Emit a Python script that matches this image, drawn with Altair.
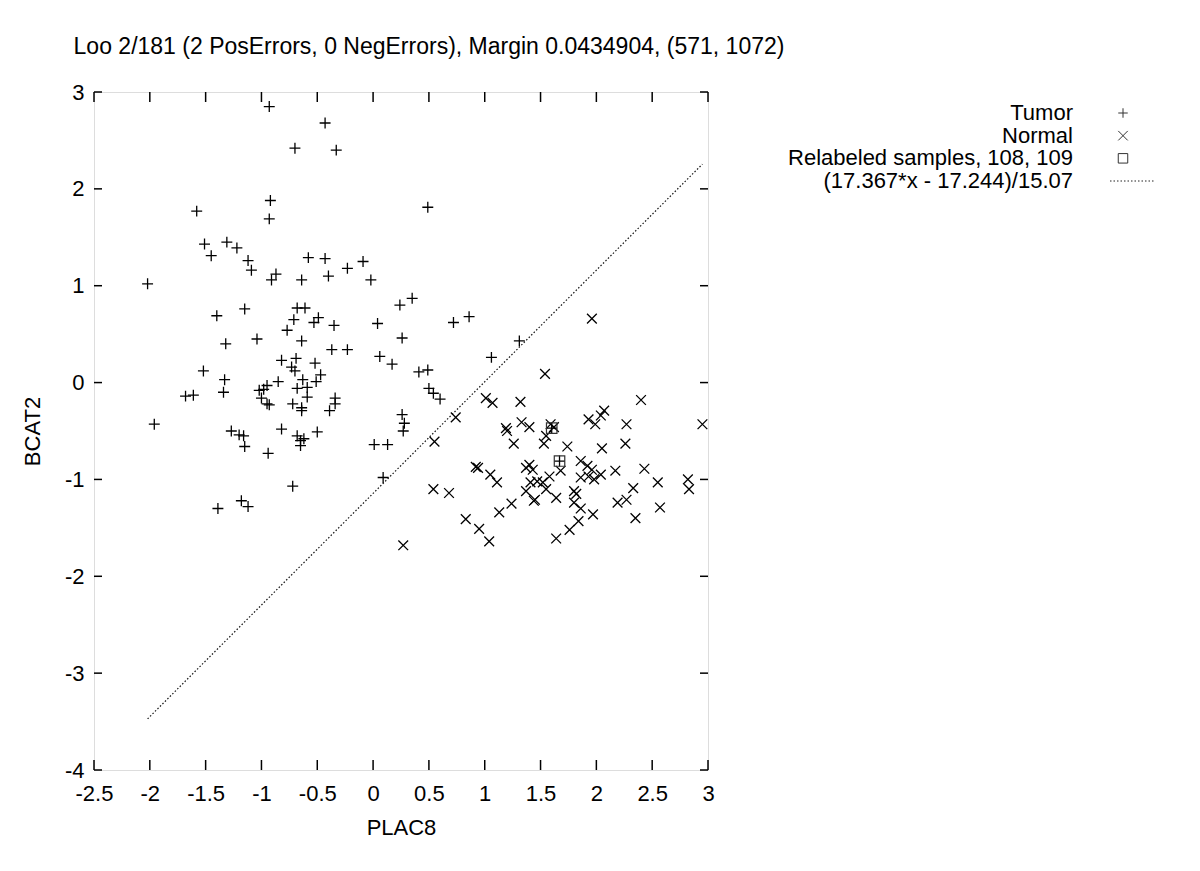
import altair as alt
import pandas as pd

title_text = "Loo 2/181 (2 PosErrors, 0 NegErrors), Margin 0.0434904, (571, 1072)"
x_title = "PLAC8"
y_title = "BCAT2"
x_ticks = [-2.5, -2, -1.5, -1, -0.5, 0, 0.5, 1, 1.5, 2, 2.5, 3]
y_ticks = [-4, -3, -2, -1, 0, 1, 2, 3]

tumor_x = [-0.93, -0.43, -0.70, -0.33, -0.92, -1.58, -0.93, -1.51, -1.31, -1.22, -1.45, -1.12,
           -1.09, -0.87, -0.91, -0.64, -0.58, -0.43, -0.40, -0.23, -0.09, -0.02, -2.02,
           0.49,
           -1.40, -1.15, -0.68, -0.61, -0.71, -0.49, -0.53, -0.77, -0.35, 0.04, -1.32, -1.04,
           -0.64, -0.37, -0.23, 0.06, 0.17, -1.52, -0.82, -0.69, -0.52, -0.73, -0.70, -0.47,
           -1.33, -0.85, -0.63, -0.51, -0.95, -0.98, -1.02, -0.68, -0.59, -1.68, -1.61, -1.34,
           -1.00, -0.59, -0.95, -0.93, -0.72, -0.64, -0.64, -0.34, -0.34, -0.39, -1.96, -1.27,
           -1.20, -1.16, -1.15, -0.82, -0.68, -0.65, -0.62, -0.65, -0.50, -0.94, 0.01, 0.13,
           -0.72, 0.09, -1.39, -1.18, -1.12,
           0.24, 0.35, 0.72, 0.86, 0.26, 0.41, 0.49, 1.31, 1.06, 0.50, 0.54, 0.60, 0.26, 0.28,
           0.27, 1.60, 1.67]
tumor_y = [2.85, 2.68, 2.42, 2.40, 1.88, 1.77, 1.69, 1.43, 1.45, 1.39, 1.31, 1.26,
           1.16, 1.12, 1.06, 1.06, 1.29, 1.28, 1.10, 1.18, 1.25, 1.06, 1.02,
           1.81,
           0.69, 0.76, 0.77, 0.77, 0.65, 0.67, 0.62, 0.54, 0.59, 0.61, 0.40, 0.45,
           0.43, 0.34, 0.34, 0.27, 0.19, 0.12, 0.23, 0.25, 0.20, 0.16, 0.12, 0.08,
           0.03, 0.01, 0.03, 0.01, -0.03, -0.07, -0.08, -0.06, -0.05, -0.14, -0.13, -0.10,
           -0.16, -0.15, -0.22, -0.23, -0.22, -0.26, -0.29, -0.16, -0.22, -0.29, -0.43, -0.50,
           -0.54, -0.55, -0.66, -0.48, -0.55, -0.60, -0.58, -0.65, -0.51, -0.73, -0.64, -0.64,
           -1.07, -0.98, -1.30, -1.22, -1.28,
           0.80, 0.87, 0.62, 0.68, 0.46, 0.11, 0.13, 0.43, 0.26, -0.06, -0.11, -0.17, -0.33, -0.42,
           -0.50, -0.47, -0.81]

normal_x = [1.96, 1.54, 1.01, 1.07, 1.32, 2.40, 0.74, 1.19, 1.20, 1.33, 1.40, 1.59, 1.93, 1.99,
            2.04, 2.07, 2.27, 2.95, 1.55, 1.53, 0.55, 1.26, 1.74, 2.05, 2.26, 1.68, 0.92, 0.94,
            1.05, 1.11, 1.37, 1.43, 1.40, 1.41, 1.52, 1.58, 1.37, 1.45, 1.55, 1.64, 1.86, 1.92,
            1.96, 1.93, 1.86, 1.98, 2.04, 2.17, 2.43, 2.55, 2.82, 2.83, 2.33, 0.54, 0.68, 0.83,
            0.95, 1.04, 0.27, 1.13, 1.24, 1.64, 1.76, 1.84, 1.97, 1.82, 1.80, 1.80, 1.86, 2.19,
            2.27, 2.35, 2.57, 1.44, 1.62, 1.47]
normal_y = [0.66, 0.09, -0.16, -0.21, -0.20, -0.18, -0.36, -0.47, -0.50, -0.41, -0.46, -0.43,
            -0.38, -0.43, -0.34, -0.29, -0.43, -0.43, -0.55, -0.63, -0.61, -0.63, -0.66, -0.68,
            -0.63, -0.91, -0.87, -0.88, -0.95, -1.03, -0.88, -0.90, -0.85, -1.03, -1.03, -0.97,
            -1.12, -1.21, -1.10, -1.19, -0.81, -0.86, -0.90, -0.97, -0.98, -1.00, -0.95, -0.91,
            -0.89, -1.03, -1.00, -1.10, -1.09, -1.10, -1.14, -1.41, -1.51, -1.64, -1.68, -1.34,
            -1.25, -1.61, -1.52, -1.43, -1.36, -1.15, -1.12, -1.24, -1.30, -1.24, -1.21, -1.40,
            -1.29, -1.22, -0.46, -1.02]

relabeled_x = [1.60, 1.67]
relabeled_y = [-0.47, -0.81]

coef_a, coef_b, coef_c = 17.367, 17.244, 15.07

legend_labels = ["Tumor", "Normal", "Relabeled samples, 108, 109",
                 "(17.367*x - 17.244)/15.07"]

W, H = 614, 678
FONT = "Liberation Sans"
PLUS = "M-1,0L1,0M0,-1L0,1"
CROSS = "M-1,-1L1,1M-1,1L1,-1"

tumor = pd.DataFrame({"x": tumor_x, "y": tumor_y})
normal = pd.DataFrame({"x": normal_x, "y": normal_y})
relab = pd.DataFrame({"x": relabeled_x, "y": relabeled_y})
all_x = tumor_x + normal_x
line_df = pd.DataFrame({"x": [min(all_x), max(all_x)]})
xt_df = pd.DataFrame({"t": x_ticks})
yt_df = pd.DataFrame({"t": y_ticks})
leg_df = pd.DataFrame({"label": legend_labels})

xs = alt.Scale(domain=[-2.5, 3], nice=False, zero=False)
ys = alt.Scale(domain=[-4, 3], nice=False, zero=False)

xaxis = alt.Axis(values=x_ticks, ticks=False, domain=False, grid=False,
                 labelFontSize=22, labelFont=FONT, labelPadding=13, labelColor="black",
                 labelExpr="'' + datum.value", labelFlush=False,
                 title=x_title, titleFontSize=22, titleFont=FONT, titleFontWeight="normal",
                 titlePadding=13, titleColor="black")
yaxis = alt.Axis(values=y_ticks, ticks=False, domain=False, grid=False,
                 labelFontSize=22, labelFont=FONT, labelPadding=10, labelColor="black",
                 labelExpr="'' + datum.value", labelFlush=False,
                 title=y_title, titleFontSize=22, titleFont=FONT, titleFontWeight="normal",
                 titlePadding=20, titleColor="black")

X = alt.X("x:Q", scale=xs, axis=xaxis)
Y = alt.Y("y:Q", scale=ys, axis=yaxis)

tumor_layer = alt.Chart(tumor).mark_point(
    shape=PLUS, size=120, strokeWidth=1.3, color="black", filled=False, opacity=1
).encode(x=X, y=Y)
normal_layer = alt.Chart(normal).mark_point(
    shape=CROSS, size=95, strokeWidth=1.3, color="black", filled=False, opacity=1
).encode(x=X, y=Y)
relab_layer = alt.Chart(relab).mark_point(
    shape="square", size=110, strokeWidth=1.2, color="#333333", filled=False, opacity=1
).encode(x=X, y=Y)
line_layer = alt.Chart(line_df).transform_calculate(
    y=f"({coef_a}*datum.x - {coef_b})/{coef_c}"
).mark_line(color="#111111", strokeWidth=1.2, strokeDash=[1.5, 2]).encode(x=X, y=Y)

XT = alt.X("t:Q", scale=xs, axis=xaxis)
YT = alt.Y("t:Q", scale=ys, axis=yaxis)
top_ticks = alt.Chart(xt_df).mark_rule(color="black", strokeWidth=1.5).encode(
    x=XT, y=alt.value(0), y2=alt.value(10))
bottom_ticks = alt.Chart(xt_df).mark_rule(color="black", strokeWidth=1.5).encode(
    x=XT, y=alt.value(H - 10), y2=alt.value(H))
left_ticks = alt.Chart(yt_df).mark_rule(color="black", strokeWidth=1.5).encode(
    y=YT, x=alt.value(0), x2=alt.value(8))
right_ticks = alt.Chart(yt_df).mark_rule(color="black", strokeWidth=1.5).encode(
    y=YT, x=alt.value(W - 8), x2=alt.value(W))

main = alt.layer(top_ticks, bottom_ticks, left_ticks, right_ticks,
                 line_layer, tumor_layer, normal_layer, relab_layer)

LY = alt.Y("label:N", scale=alt.Scale(type="point", domain=legend_labels,
                                      range=[21, 89], padding=0), axis=None)
leg_text = alt.Chart(leg_df).mark_text(
    align="right", baseline="middle", fontSize=22, font=FONT, color="black"
).encode(text="label:N", x=alt.value(979), y=LY)
leg_sym = alt.Chart(leg_df).transform_filter(
    alt.FieldOneOfPredicate(field="label", oneOf=legend_labels[:3])
).mark_point(size=90, strokeWidth=1, filled=False, opacity=1, color="#333333").encode(
    x=alt.value(1029), y=LY,
    shape=alt.Shape("label:N", scale=alt.Scale(domain=legend_labels[:3],
                                               range=[PLUS, CROSS, "square"]), legend=None))
leg_line = alt.Chart(leg_df).transform_filter(
    alt.FieldEqualPredicate(field="label", equal=legend_labels[3])
).mark_rule(color="#222222", strokeWidth=1, strokeDash=[1.5, 2]).encode(
    x=alt.value(1016), x2=alt.value(1060), y=LY)
legend = alt.layer(leg_text, leg_sym, leg_line)

chart = alt.layer(main, legend).resolve_scale(y="independent", shape="independent").properties(
    width=W, height=H,
    title=alt.TitleParams(text=title_text, fontSize=23, font=FONT, fontWeight="normal",
                          anchor="middle", dx=28, offset=22, color="black"),
    autosize=alt.AutoSizeParams(type="none"),
    padding={"left": 86, "top": 84, "right": 484, "bottom": 93},
).configure_view(stroke="black", strokeWidth=2).configure(background="white")

chart.save("out.html", embed_options={"renderer": "svg", "actions": False})
